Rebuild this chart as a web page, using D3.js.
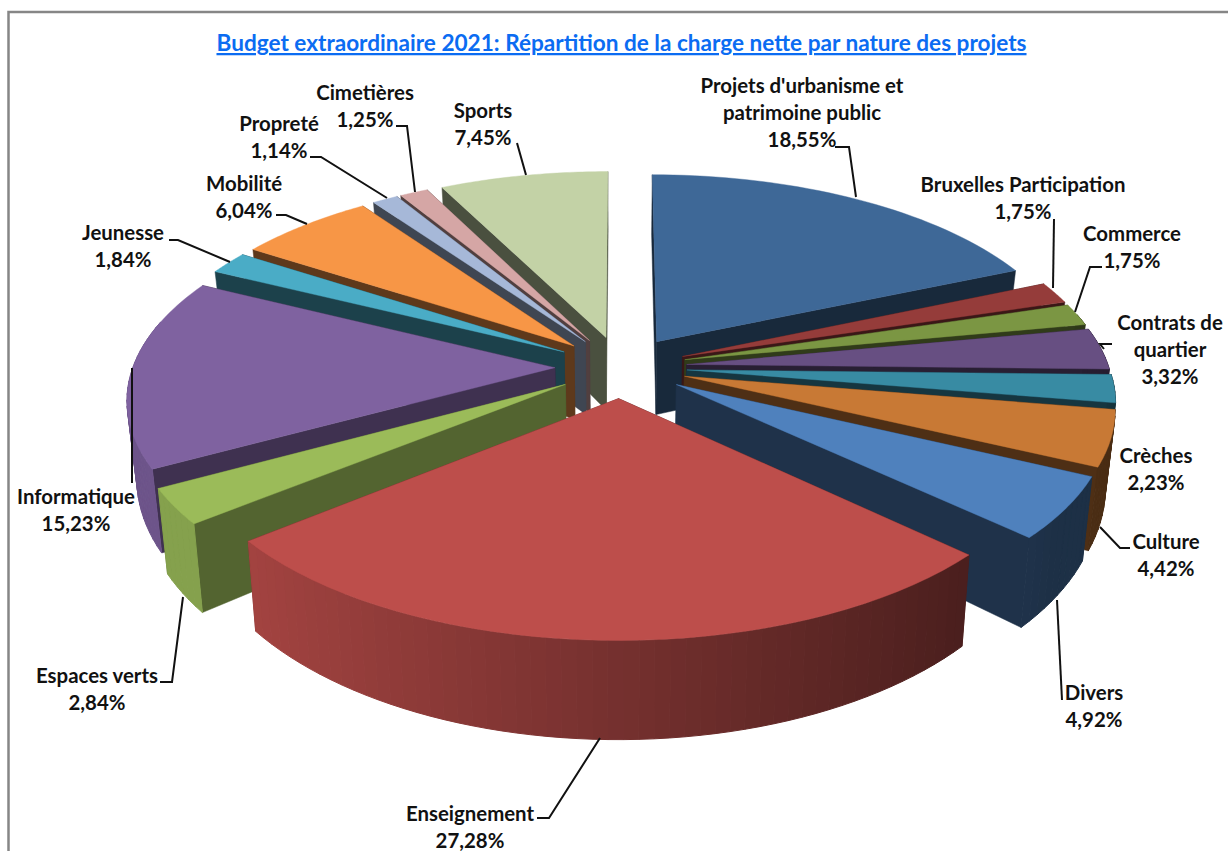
<!DOCTYPE html>
<html lang="fr">
<head>
<meta charset="utf-8">
<title>Budget extraordinaire 2021</title>
<script src="https://cdn.jsdelivr.net/npm/d3@7/dist/d3.min.js"></script>
<style>
  html, body { margin: 0; padding: 0; background: #fff; }
  svg { display: block; }
  text { font-family: Lato, "Open Sans", sans-serif; font-weight: 700; fill: #111; }
</style>
</head>
<body>
<svg id="chart" width="1228" height="851"></svg>
<script>
const titleText = "Budget extraordinaire 2021: Répartition de la charge nette par nature des projets";
const categories = ["Projets d'urbanisme et patrimoine public", "Bruxelles Participation", "Commerce",
  "Contrats de quartier", "Crèches", "Culture", "Divers", "Enseignement", "Espaces verts",
  "Informatique", "Jeunesse", "Mobilité", "Propreté", "Cimetières", "Sports"];
const shares = [18.55, 1.75, 1.75, 3.32, 2.23, 4.42, 4.92, 27.28, 2.84, 15.23, 1.84, 6.04, 1.14, 1.25, 7.45];
const topColors = ["#3e6897", "#953c3a", "#7b9643", "#674f82", "#388ba3", "#c87935", "#4f81bd", "#bd4e4b",
  "#9bbb59", "#7f62a0", "#4aacc6", "#f79646", "#a6b8d8", "#d5a6a5", "#c3d2a6"];
const labelLines = [
  ["Projets d'urbanisme et", "patrimoine public"], ["Bruxelles Participation"], ["Commerce"],
  ["Contrats de", "quartier"], ["Crèches"], ["Culture"], ["Divers"], ["Enseignement"], ["Espaces verts"],
  ["Informatique"], ["Jeunesse"], ["Mobilité"], ["Propreté"], ["Cimetières"], ["Sports"]];
// Label anchor: centre x and the vertical centre of the first line.
const labelAnchors = [[802, 86], [1023, 185], [1132, 234], [1170, 323], [1156, 456], [1166, 542], [1094, 693],
  [470, 814], [97, 676], [76, 497], [123, 233], [244, 184], [279, 124], [365, 93], [483, 111]];
const leaders = [
  [[835, 147], [849, 147], [856, 197]], [[1054, 219], [1053, 288]], [[1102, 267], [1090, 267], [1075, 312]],
  [[1112, 344], [1100, 344], [1104, 349]], [], [[1130, 548], [1120, 548], [1100, 527]], [[1062, 700], [1057, 600]],
  [[537, 818], [549, 818], [600, 738]], [[160, 682], [172, 682], [183, 597]], [[132, 483], [132, 368]],
  [[169, 240], [178, 240], [230, 262]], [[276, 215], [286, 215], [307, 224]], [[310, 157], [321, 157], [387, 198]],
  [[396, 126], [407, 126], [415, 192]], [[517, 143], [526, 175]]];

// Scene parameters for the tilted, exploded pie.
const view = { cx: 621, cy: 367, radius: 422, explode: 66, tilt: 0.468, persp: 0.000338,
               depth: 75, depthPow: 1.55, floorShrink: 0.98 };

const svg = d3.select("#chart");
const fmt = v => d3.format(".2f")(v).replace(".", ",") + "%";

// Page frame
svg.append("path").attr("d", "M8.5,851V12H1228").attr("fill", "none").attr("stroke", "#868686").attr("stroke-width", 2.5);

const arcs = d3.pie().sort(null).value(d => d)(shares);

// Ground-plane coordinates to screen, top surface (h=0) or floor of the extrusion (h=1).
function project(X, Y, h) {
  const s = 1 / (1 - view.persp * Y);
  const x = view.cx + X * s * (h ? view.floorShrink : 1);
  const y = view.cy + Y * view.tilt * s + (h ? view.depth * Math.pow(s, view.depthPow) : 0);
  return [x, y];
}

function wedge(a) {
  const mid = (a.startAngle + a.endAngle) / 2;
  const ax = view.explode * Math.sin(mid), ay = -view.explode * Math.cos(mid);
  const rim = ang => [ax + view.radius * Math.sin(ang), ay - view.radius * Math.cos(ang)];
  return { mid, apex: [ax, ay], rim };
}

const line = d3.line();
const order = arcs.map((a, i) => ({ a, i, w: wedge(a) }))
  .sort((p, q) => (-Math.cos(p.w.mid)) - (-Math.cos(q.w.mid)));

const pieG = svg.append("g");
order.forEach(({ a, i, w }) => {
  const base = d3.rgb(topColors[i]);
  const shade = f => d3.rgb(base.r * f, base.g * f, base.b * f).formatRgb();
  const g = pieG.append("g").attr("class", "slice");

  // Flat cut faces from apex to rim: the one turned away is painted first,
  // and faces toward the lower left catch a little more light.
  const faces = Math.sin(w.mid) < 0 ? [a.endAngle, a.startAngle] : [a.startAngle, a.endAngle];
  faces.forEach(ang => {
    const r = w.rim(ang);
    const f = Math.sin(ang) < 0 ? 0.38 + 0.25 * Math.max(0, -Math.cos(ang)) : 0.39;
    g.append("path")
      .attr("d", line([project(...w.apex, 0), project(...r, 0), project(...r, 1), project(...w.apex, 1)]) + "Z")
      .attr("fill", shade(f)).attr("stroke", shade(f)).attr("stroke-width", 0.5);
  });

  // Curved rim: overlapping bands, lit according to their facing
  const step = Math.PI / 100;
  const n = Math.max(1, Math.ceil((a.endAngle - a.startAngle) / step));
  const angs = d3.range(n + 1).map(k => a.startAngle + (a.endAngle - a.startAngle) * k / n);
  const bands = d3.pairs(angs).filter(([p, q]) => Math.cos((p + q) / 2) < 0.25);
  bands.sort((u, v) => Math.sin(v[0]) - Math.sin(u[0]));
  bands.forEach(([p, q]) => {
    const c = (p + q) / 2;
    const f = Math.max(0.37, Math.min(0.86, 0.62 - 0.31 * Math.sin(c)));
    const rp = w.rim(p), rq = w.rim(q);
    const pts = [project(...rp, 0), project(...rq, 0), project(...rq, 1), project(...rp, 1)];
    g.append("path").attr("d", line(pts) + "Z")
      .attr("fill", shade(f)).attr("stroke", shade(f)).attr("stroke-width", 1);
  });

  // Top surface
  const rimPts = d3.range(0, 41).map(k => {
    const ang = a.startAngle + (a.endAngle - a.startAngle) * k / 40;
    return project(...w.rim(ang), 0);
  });
  g.append("path")
    .attr("d", line([project(...w.apex, 0), ...rimPts]) + "Z")
    .attr("fill", topColors[i]).attr("stroke", topColors[i]).attr("stroke-width", 0.4);
});

// Leader lines
const leaderG = svg.append("g").attr("fill", "none").attr("stroke", "#111").attr("stroke-width", 2);
leaders.forEach(pts => { if (pts.length) leaderG.append("path").attr("d", line(pts)); });

// Slice labels: name lines followed by the percentage
const labelG = svg.append("g").attr("text-anchor", "middle").attr("font-size", 20.4);
categories.forEach((name, i) => {
  const [x, y] = labelAnchors[i];
  const rows = [...labelLines[i], fmt(shares[i])];
  const t = labelG.append("text").attr("aria-label", name);
  rows.forEach((row, k) => t.append("tspan").attr("x", x).attr("y", y + k * 26.8).attr("dy", "0.35em").text(row));
});

svg.append("text").attr("x", 621.5).attr("y", 51).attr("text-anchor", "middle")
  .attr("font-size", 22.6).style("fill", "#0b6cf2").attr("text-decoration", "underline").text(titleText);
</script>
</body>
</html>
